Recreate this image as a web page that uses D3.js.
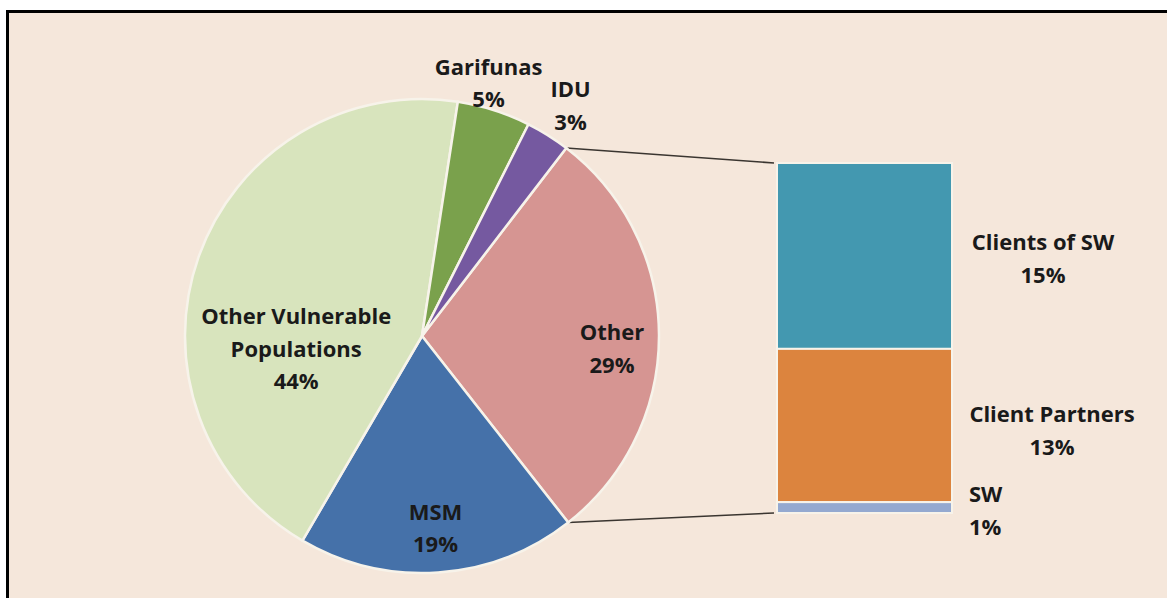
<!DOCTYPE html>
<html>
    <head>
        <meta charset="utf-8" />
        <title>Distribution by population group</title>
        <script src="https://d3js.org/d3.v7.min.js"></script>
        <style>
        body {
            margin: 0;
            background-color: #ffffff;
        }
        text {
            font-family: 'Open Sans', sans-serif;
            font-weight: 700;
            font-size: 22px;
            fill: #1a1a1a;
        }
        </style>
    </head>
    <body>

    <svg id="chart">
        <g id="frame"></g>
        <g id="links"></g>
        <g id="pie"></g>
        <g id="bar"></g>
        <g id="labels"></g>
    </svg>

    <script>

        // pie slices, clockwise starting from the split-out slice
        var pieCategories = ["Other", "MSM", "Other Vulnerable Populations", "Garifunas", "IDU"];
        var pieValues = [29, 19, 44, 5, 3];
        var pieColors = ["#d69592", "#4571a9", "#d8e4bd", "#7aa14c", "#7559a0"];

        // breakdown of "Other", top to bottom
        var barCategories = ["Clients of SW", "Client Partners", "SW"];
        var barValues = [15.4, 12.7, 0.9];
        var barColors = ["#4398b0", "#dc843e", "#94a9d0"];

        var width = 1167;
        var height = 598;

        var svg = d3.select("#chart")
            .attr("width", width)
            .attr("height", height);

        // peach panel with the black border on top and left
        svg.select("#frame").append("rect")
            .attr("x", 7.5)
            .attr("y", 11.5)
            .attr("width", width + 10)
            .attr("height", height + 10)
            .style("fill", "#f5e7db")
            .style("stroke", "#000000")
            .style("stroke-width", 3);

        var cx = 422, cy = 336, radius = 237;
        var startAngle = 37.5 * Math.PI / 180;

        var pieData = pieCategories.map(function(c, i) {
            return { name: c, value: pieValues[i], color: pieColors[i] };
        });

        var pie = d3.pie()
            .sort(null)
            .value(function(d) { return d.value; })
            .startAngle(startAngle)
            .endAngle(startAngle + 2 * Math.PI);

        var arcs = pie(pieData);

        var arc = d3.arc()
            .innerRadius(0)
            .outerRadius(radius);

        var pieG = svg.select("#pie")
            .attr("transform", "translate(" + cx + "," + cy + ")");

        pieG.selectAll(".slice")
            .data(arcs)
            .enter().append("path")
            .attr("class", "slice")
            .attr("d", arc)
            .style("fill", function(d) { return d.data.color; })
            .style("stroke", "#f7f3ea")
            .style("stroke-width", 2.5)
            .style("stroke-linejoin", "round");

        // stacked bar for the "Other" slice
        var barTotal = d3.sum(barValues);
        var barX0 = 777, barX1 = 952;

        var y = d3.scaleLinear()
            .domain([0, barTotal])
            .range([513, 163]);

        var stackData = [];
        var acc = barTotal;
        barCategories.forEach(function(c, i) {
            stackData.push({ name: c, value: barValues[i], color: barColors[i], top: acc, bottom: acc - barValues[i] });
            acc -= barValues[i];
        });

        svg.select("#bar").selectAll(".seg")
            .data(stackData)
            .enter().append("rect")
            .attr("class", "seg")
            .attr("x", barX0)
            .attr("width", barX1 - barX0)
            .attr("y", function(d) { return y(d.top); })
            .attr("height", function(d) { return y(d.bottom) - y(d.top); })
            .style("fill", function(d) { return d.color; })
            .style("stroke", "#f7f3ea")
            .style("stroke-width", 2);

        // connector lines from the Other slice to the bar
        var other = arcs[0];
        function edgePoint(a) {
            return [cx + radius * Math.sin(a), cy - radius * Math.cos(a)];
        }
        var links = [
            [edgePoint(other.startAngle), [barX0 - 3, y(barTotal)]],
            [edgePoint(other.endAngle), [barX0 - 3, y(0)]]
        ];
        svg.select("#links").selectAll("line")
            .data(links)
            .enter().append("line")
            .attr("x1", function(d) { return d[0][0]; })
            .attr("y1", function(d) { return d[0][1]; })
            .attr("x2", function(d) { return d[1][0]; })
            .attr("y2", function(d) { return d[1][1]; })
            .style("stroke", "#3a3530")
            .style("stroke-width", 1.6);

        // label placement: radius and nudge per slice
        var labelRadius = [190, 198, 125, 265, 272];
        var labelNudge = [[0, 14], [0, -5], [-8, 55], [-14, 0], [4, 0]];
        var pieLines = [
            ["Other"],
            ["MSM"],
            ["Other Vulnerable", "Populations"],
            ["Garifunas"],
            ["IDU"]
        ];
        var lineStep = 32.5;

        var labels = svg.select("#labels");

        arcs.forEach(function(d, i) {
            var mid = (d.startAngle + d.endAngle) / 2;
            var px = cx + labelRadius[i] * Math.sin(mid) + labelNudge[i][0];
            var py = cy - labelRadius[i] * Math.cos(mid) + labelNudge[i][1];
            var lines = pieLines[i].concat([d.data.value + "%"]);
            var first = py - (lines.length - 1) * lineStep / 2;
            var t = labels.append("text")
                .attr("text-anchor", "middle");
            lines.forEach(function(l, j) {
                t.append("tspan")
                    .attr("x", px)
                    .attr("y", first + j * lineStep)
                    .attr("dy", "0.35em")
                    .text(l);
            });
        });

        // bar labels
        var barLabelX = [1043, 1052, 969];
        var barLabelAnchor = ["middle", "middle", "start"];
        var barLabelY = [250, 422, 502];

        stackData.forEach(function(d, i) {
            var t = labels.append("text")
                .attr("text-anchor", barLabelAnchor[i]);
            t.append("tspan")
                .attr("x", barLabelX[i])
                .attr("y", barLabelY[i])
                .text(d.name);
            t.append("tspan")
                .attr("x", barLabelX[i])
                .attr("y", barLabelY[i] + 33)
                .text(Math.round(d.value) + "%");
        });

    </script>
    </body>
</html>
